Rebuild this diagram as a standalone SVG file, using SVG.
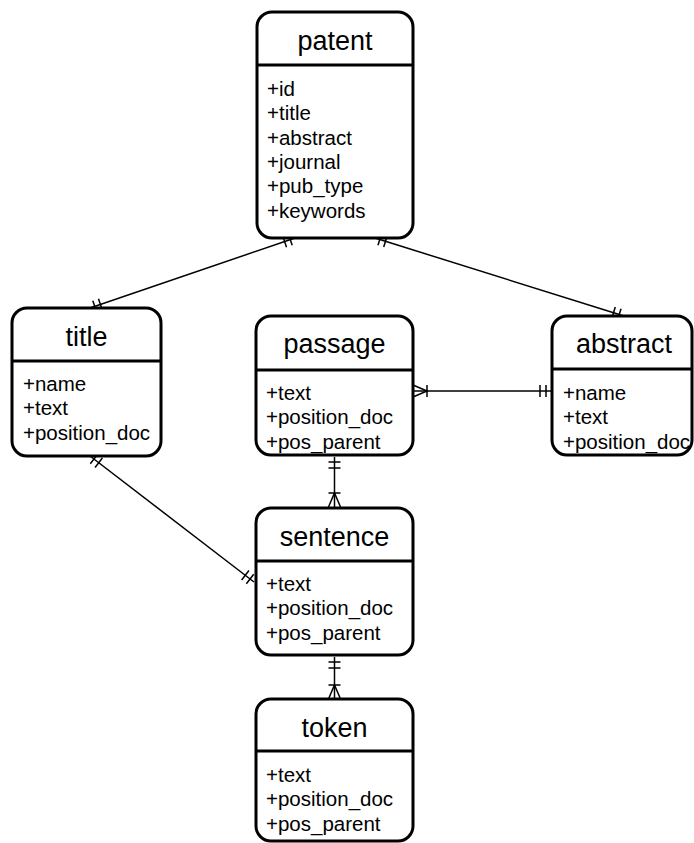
<svg xmlns="http://www.w3.org/2000/svg" width="694" height="843" viewBox="0 0 694 843">
  <style>
    .box { fill: #ffffff; stroke: #000000; stroke-width: 3; }
    .div { stroke: #000000; stroke-width: 3; }
    .hdr { font-family: "Liberation Sans", Arial, sans-serif; font-size: 27px; fill: #000000; text-anchor: middle; }
    .item { font-family: "Liberation Sans", Arial, sans-serif; font-size: 20.5px; fill: #000000; }
    .rel { fill: none; stroke: #000000; stroke-width: 1.5; }
    .mk { fill: none; stroke: #000000; stroke-width: 1.5; }
  </style>
  <defs>
    <!-- mandatory one: two bars across the line -->
    <marker id="one" viewBox="-20 -10 24 20" refX="0" refY="0" markerWidth="24" markerHeight="20" markerUnits="userSpaceOnUse" orient="auto-start-reverse" overflow="visible">
      <path class="mk" d="M-5,-6 L-5,6 M-11,-6 L-11,6"/>
    </marker>
    <!-- one or many: crow's foot with a bar -->
    <marker id="many" viewBox="-20 -10 24 20" refX="0" refY="0" markerWidth="24" markerHeight="20" markerUnits="userSpaceOnUse" orient="auto-start-reverse" overflow="visible">
      <path class="mk" d="M0,-6 L-14,0 L0,6 M-14,-6 L-14,6"/>
    </marker>
  </defs>

  <g id="connectors">
    <line class="rel" x1="295" y1="238" x2="90" y2="308" marker-start="url(#one)" marker-end="url(#one)"/>
    <line class="rel" x1="375" y1="238" x2="624" y2="316" marker-start="url(#one)" marker-end="url(#one)"/>
    <line class="rel" x1="90" y1="456" x2="254" y2="582" marker-start="url(#one)" marker-end="url(#one)"/>
    <line class="rel" x1="413" y1="391" x2="551" y2="391" marker-start="url(#many)" marker-end="url(#one)"/>
    <line class="rel" x1="334.5" y1="457" x2="334.5" y2="507" marker-start="url(#one)" marker-end="url(#many)"/>
    <line class="rel" x1="334.5" y1="657" x2="334.5" y2="699" marker-start="url(#one)" marker-end="url(#many)"/>
  </g>

  <g id="patent">
    <rect class="box" x="257" y="12" width="156" height="226" rx="15"/>
    <line class="div" x1="257" y1="65" x2="413" y2="65"/>
    <text class="hdr" x="335" y="50">patent</text>
    <text class="item" x="267" y="96">+id</text>
    <text class="item" x="267" y="120.3">+title</text>
    <text class="item" x="267" y="144.6">+abstract</text>
    <text class="item" x="267" y="168.9">+journal</text>
    <text class="item" x="267" y="193.2">+pub_type</text>
    <text class="item" x="267" y="217.5">+keywords</text>
  </g>

  <g id="title">
    <rect class="box" x="12" y="308" width="149" height="148" rx="15"/>
    <line class="div" x1="12" y1="361" x2="161" y2="361"/>
    <text class="hdr" x="86.5" y="346">title</text>
    <text class="item" x="23" y="391">+name</text>
    <text class="item" x="23" y="415.3">+text</text>
    <text class="item" x="23" y="439.6">+position_doc</text>
  </g>

  <g id="passage">
    <rect class="box" x="256" y="316" width="157" height="139" rx="15"/>
    <line class="div" x1="256" y1="370" x2="413" y2="370"/>
    <text class="hdr" x="334.5" y="353">passage</text>
    <text class="item" x="266" y="400">+text</text>
    <text class="item" x="266" y="424.3">+position_doc</text>
    <text class="item" x="266" y="448.6">+pos_parent</text>
  </g>

  <g id="abstract">
    <rect class="box" x="552" y="316" width="140" height="139" rx="15"/>
    <line class="div" x1="552" y1="369" x2="692" y2="369"/>
    <text class="hdr" x="624" y="353">abstract</text>
    <text class="item" x="563" y="400">+name</text>
    <text class="item" x="563" y="424.3">+text</text>
    <text class="item" x="563" y="448.6">+position_doc</text>
  </g>

  <g id="sentence">
    <rect class="box" x="256" y="508" width="157" height="147" rx="15"/>
    <line class="div" x1="256" y1="561" x2="413" y2="561"/>
    <text class="hdr" x="334.5" y="546">sentence</text>
    <text class="item" x="266" y="591">+text</text>
    <text class="item" x="266" y="615.3">+position_doc</text>
    <text class="item" x="266" y="639.6">+pos_parent</text>
  </g>

  <g id="token">
    <rect class="box" x="256" y="699" width="157" height="142" rx="15"/>
    <line class="div" x1="256" y1="751" x2="413" y2="751"/>
    <text class="hdr" x="334.5" y="737">token</text>
    <text class="item" x="266" y="782">+text</text>
    <text class="item" x="266" y="806.3">+position_doc</text>
    <text class="item" x="266" y="830.6">+pos_parent</text>
  </g>
</svg>
